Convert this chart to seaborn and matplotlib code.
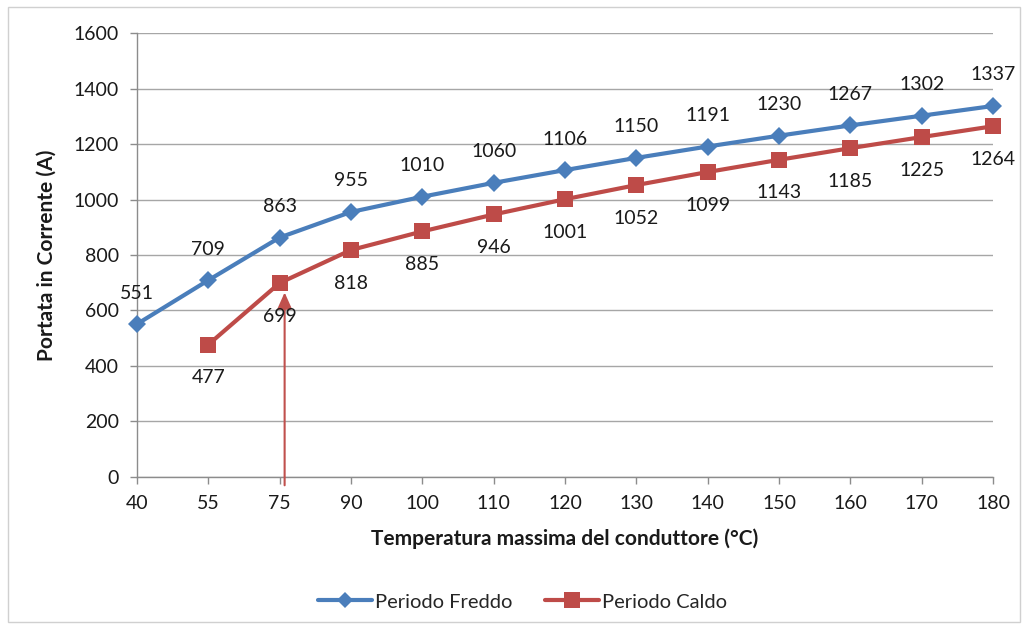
import numpy as np
import pandas as pd
import matplotlib
matplotlib.use("Agg")
import matplotlib.pyplot as plt
from matplotlib.patches import Rectangle
from matplotlib.lines import Line2D
import seaborn as sns

temperature = [40, 55, 75, 90, 100, 110, 120, 130, 140, 150, 160, 170, 180]
freddo = [551, 709, 863, 955, 1010, 1060, 1106, 1150, 1191, 1230, 1267, 1302, 1337]
caldo = [np.nan, 477, 699, 818, 885, 946, 1001, 1052, 1099, 1143, 1185, 1225, 1264]
series_names = ["Periodo Freddo", "Periodo Caldo"]
arrow_temp = 75

sns.set_theme(style="white")
plt.rcParams['font.family'] = ['Lato', 'DejaVu Sans']

BLUE = "#4A7EBB"
RED = "#BE4B48"
TXT = "#1a1a1a"

pos = np.arange(len(temperature))
df = pd.DataFrame({
    "pos": np.concatenate([pos, pos]),
    "val": freddo + caldo,
    "serie": [series_names[0]] * len(pos) + [series_names[1]] * len(pos),
})
df = df.dropna()

fig = plt.figure(figsize=(10.29, 6.29), dpi=100)
ax = fig.add_axes([0.1331, 0.2417, 0.8319, 0.7058])

sns.lineplot(data=df, x="pos", y="val", hue="serie", style="serie",
             palette={series_names[0]: BLUE, series_names[1]: RED},
             markers={series_names[0]: "D", series_names[1]: "s"},
             dashes=False, linewidth=3, markeredgewidth=0,
             markersize=9, ax=ax, legend=False)
for line in ax.get_lines():
    line.set_clip_on(False)
    line.set_zorder(5)
    if line.get_marker() == "s":
        line.set_markersize(12)

ax.set_xlim(0, len(temperature) - 1)
ax.set_ylim(0, 1600)
ax.set_yticks(np.arange(0, 1601, 200))
ax.set_xticks(pos)
ax.set_xticklabels([str(t) for t in temperature])
ax.yaxis.grid(True, color="#a6a6a6", linewidth=1)
ax.xaxis.grid(False)
ax.set_axisbelow(True)
for s in ["top", "right"]:
    ax.spines[s].set_visible(False)
for s in ["left", "bottom"]:
    ax.spines[s].set_color("#8c8c8c")
    ax.spines[s].set_linewidth(1)
ax.tick_params(axis="both", which="both", length=5, color="#8c8c8c", width=1,
               labelsize=14, labelcolor=TXT, direction="out",
               bottom=True, left=True)
ax.tick_params(axis="y", pad=8)
ax.tick_params(axis="x", pad=8)

ax.set_xlabel("Temperatura massima del conduttore (°C)", fontsize=15,
              fontweight="bold", color=TXT, labelpad=12)
ax.set_ylabel("Portata in Corrente (A)", fontsize=15, fontweight="bold",
              color=TXT, labelpad=12)

for x, v in zip(pos, freddo):
    ax.annotate(str(v), (x, v), xytext=(0, 31), textcoords="offset pixels",
                ha="center", va="center", fontsize=14, color=TXT,
                annotation_clip=False, zorder=7)
for x, v in zip(pos, caldo):
    if np.isnan(v):
        continue
    ax.annotate(str(int(v)), (x, v), xytext=(0, -33), textcoords="offset pixels",
                ha="center", va="center", fontsize=14, color=TXT,
                annotation_clip=False, zorder=7)

ai = temperature.index(arrow_temp)
ax.annotate("", xy=(ai + 0.07, 665), xytext=(ai + 0.07, -30),
            arrowprops=dict(arrowstyle="-|>,head_length=0.45,head_width=0.2",
                            color="#C0504D", lw=1.5,
                            mutation_scale=22, shrinkA=0, shrinkB=0),
            annotation_clip=False, zorder=6)

handles = [
    Line2D([], [], color=BLUE, marker="D", markersize=8, linewidth=3, markeredgewidth=0),
    Line2D([], [], color=RED, marker="s", markersize=11, linewidth=3, markeredgewidth=0),
]
fig.legend(handles, series_names, loc="center", bbox_to_anchor=(0.508, 0.043),
           ncol=2, frameon=False, fontsize=14.5, handlelength=2.7,
           columnspacing=1.6, handletextpad=0.15)

fig.patches.append(Rectangle((8 / 1029, 1 - 622 / 629), 1012 / 1029, 615 / 629,
                             transform=fig.transFigure, fill=False,
                             edgecolor="#d0d0d0", linewidth=1))

fig.savefig("out.png", dpi=100)
